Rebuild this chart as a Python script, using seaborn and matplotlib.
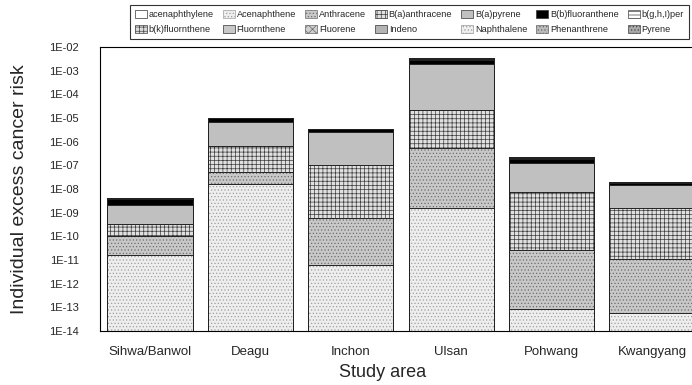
import numpy as np
import pandas as pd
import matplotlib
matplotlib.use('Agg')
import matplotlib.pyplot as plt
from matplotlib.patches import Patch
from matplotlib.ticker import FixedLocator, FuncFormatter, NullLocator
import seaborn as sns

sns.set_theme(style='white')
plt.rcParams['font.family'] = ['Liberation Sans', 'DejaVu Sans']
plt.rcParams['hatch.linewidth'] = 0.5

# study areas and PAH compounds (stacked bottom -> top, legend order)
sites = ['Sihwa/Banwol', 'Deagu', 'Inchon', 'Ulsan', 'Pohwang', 'Kwangyang']
compounds = ['acenaphthylene', 'Acenaphthene', 'Anthracene', 'B(a)anthracene',
             'B(a)pyrene', 'B(b)fluoranthene', 'b(g,h,I)per', 'b(k)fluornthene',
             'Fluornthene', 'Fluorene', 'Indeno', 'Naphthalene', 'Phenanthrene', 'Pyrene']

# individual excess cancer risk per compound
acenaphthylene = [1e-15, 1e-15, 1e-15, 1e-15, 1e-15, 1e-15]
acenaphthene = [1.65e-11, 1.65e-8, 6.3e-12, 1.55e-9, 8.3e-14, 5.6e-14]
anthracene = [9.0e-11, 3.45e-8, 5.84e-10, 5.38e-7, 2.69e-11, 1.09e-11]
b_a_anthracene = [2.2e-10, 6.1e-7, 1.04e-7, 2.15e-5, 7.77e-9, 1.54e-9]
b_a_pyrene = [1.8e-9, 6.4e-6, 2.4e-6, 1.98e-3, 1.15e-7, 1.35e-8]
b_b_fluoranthene = [1.7e-9, 2.5e-6, 8.0e-7, 8.0e-4, 5.7e-8, 3.0e-9]
b_ghi_perylene = [3e-11, 6e-8, 2e-8, 1.5e-4, 1e-8, 2e-10]
b_k_fluoranthene = [8e-11, 8e-8, 4e-8, 2e-4, 2e-8, 4e-10]
fluoranthene = [1e-12, 5e-10, 2e-10, 2e-6, 1e-10, 2e-12]
fluorene = [5e-13, 2e-10, 1e-10, 1e-6, 5e-11, 1e-12]
indeno = [6e-11, 6e-8, 3e-8, 1.4e-4, 1.5e-8, 3e-10]
naphthalene = [2e-12, 5e-10, 3e-10, 3e-6, 2e-10, 5e-12]
phenanthrene = [3e-12, 1e-9, 5e-10, 5e-6, 3e-10, 5e-12]
pyrene = [1e-12, 3e-10, 2e-10, 2e-6, 1e-10, 2e-12]

yticks = [10.0 ** k for k in range(-14, -1)]

df = pd.DataFrame(dict(zip(compounds, [
    acenaphthylene, acenaphthene, anthracene, b_a_anthracene, b_a_pyrene,
    b_b_fluoranthene, b_ghi_perylene, b_k_fluoranthene, fluoranthene, fluorene,
    indeno, naphthalene, phenanthrene, pyrene])), index=sites)
cum = df.cumsum(axis=1)

# (face colour, hatch, hatch colour) imitating the Excel fill patterns
styles = {
    'acenaphthylene': ('#ffffff', '', '#999999'),
    'Acenaphthene': ('#eeeeee', '.....', '#a0a0a0'),
    'Anthracene': ('#c8c8c8', '.....', '#6e6e6e'),
    'B(a)anthracene': ('#e0e0e0', '++++', '#3c3c3c'),
    'B(a)pyrene': ('#c0c0c0', '', '#c0c0c0'),
    'B(b)fluoranthene': ('#000000', '', '#000000'),
    'b(g,h,I)per': ('#ffffff', '-----', '#444444'),
    'b(k)fluornthene': ('#dddddd', '++++', '#444444'),
    'Fluornthene': ('#c8c8c8', '', '#c8c8c8'),
    'Fluorene': ('#d0d0d0', 'xxxx', '#666666'),
    'Indeno': ('#b4b4b4', '', '#b4b4b4'),
    'Naphthalene': ('#f0f0f0', '.....', '#999999'),
    'Phenanthrene': ('#bbbbbb', '.....', '#666666'),
    'Pyrene': ('#aaaaaa', '.....', '#444444'),
}

fig = plt.figure(figsize=(6.92, 3.85), dpi=100)
ax = fig.add_axes([0.1442, 0.1403, 0.8705, 0.7377])

# overlay cumulative bars from the top layer down
for name in reversed(compounds):
    face, hatch, hcol = styles[name]
    n0 = len(ax.patches)
    sns.barplot(x=sites, y=cum[name].values, color=face, width=0.85,
                errorbar=None, saturation=1, ax=ax)
    for p in ax.patches[n0:]:
        p.set_facecolor(face)
        p.set_hatch(hatch)
        p.set_edgecolor(hcol)
        p.set_linewidth(0)

# segment outlines
for name in compounds:
    sns.barplot(x=sites, y=cum[name].values, fill=False, color='#222222',
                width=0.85, errorbar=None, linewidth=0.7, ax=ax)

ax.set_yscale('log')
ax.set_ylim(1e-14, 1e-2)
ax.set_xlim(-0.5, 5.5)
ax.yaxis.set_major_locator(FixedLocator(yticks))
ax.yaxis.set_minor_locator(NullLocator())
ax.yaxis.set_major_formatter(FuncFormatter(lambda v, _: f"1E{int(round(np.log10(v))):03d}"))
ax.tick_params(axis='y', length=0, pad=15, labelsize=8)
ax.tick_params(axis='x', length=0, pad=11, labelsize=9.5)

for side in ['top', 'left', 'bottom']:
    ax.spines[side].set_color('black')
    ax.spines[side].set_linewidth(0.8)
ax.spines['right'].set_visible(False)

ax.set_ylabel('Individual excess cancer risk', fontsize=14)
ax.set_xlabel('Study area', fontsize=13)
ax.yaxis.set_label_coords(-0.12, 0.5)
ax.xaxis.set_label_coords(0.47, -0.115)

# legend: two rows read left to right
handles = [Patch(facecolor=styles[c][0], hatch=styles[c][1], edgecolor=styles[c][2]
                 if styles[c][1] else '#333333', linewidth=0.5) for c in compounds]
order = []
for i in range(7):
    order += [i, i + 7]
leg = fig.legend([handles[i] for i in order], [compounds[i] for i in order],
                 ncol=7, loc='upper left', bbox_to_anchor=(0.188, 0.987),
                 fontsize=6.6, frameon=True, fancybox=False, edgecolor='black',
                 handlelength=1.3, handleheight=0.9, handletextpad=0.2,
                 columnspacing=0.98, borderpad=0.55, labelspacing=0.65,
                 borderaxespad=0)
leg.get_frame().set_linewidth(0.8)

fig.savefig('out.png', dpi=100)
